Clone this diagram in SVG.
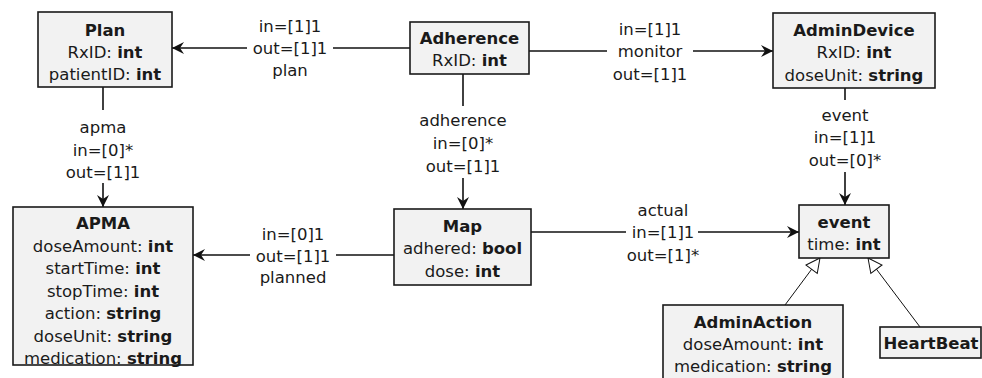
<svg xmlns="http://www.w3.org/2000/svg" width="982" height="378" viewBox="0 0 982 378">
  <style>
    text { font-family: "DejaVu Sans", "Liberation Sans", sans-serif; font-size: 16.5px; fill: #1a1a1a; text-anchor: middle; }
    .b { font-weight: bold; }
    .box { fill: #f2f2f2; stroke: #1a1a1a; stroke-width: 1.6; }
    .edge { fill: none; stroke: #111; stroke-width: 1.6; }
    .gen { fill: none; stroke: #111; stroke-width: 1; }
  </style>
  <defs>
    <marker id="arrow" markerUnits="userSpaceOnUse" markerWidth="13" markerHeight="12" refX="12" refY="6" orient="auto">
      <path d="M0,0 L12,6 L0,12 L4,6 z" fill="#111"/>
    </marker>
    <marker id="tri" markerUnits="userSpaceOnUse" markerWidth="16" markerHeight="16" refX="15" refY="8" orient="auto">
      <path d="M1,1 L15,8 L1,15 z" fill="#fff" stroke="#111" stroke-width="1"/>
    </marker>
  </defs>

  <!-- connectors -->
  <g id="connectors">
    <!-- Adherence -> Plan -->
    <path class="edge" d="M410,48 H333"/>
    <path class="edge" d="M247,48 H172" marker-end="url(#arrow)"/>
    <text x="290" y="32">in=[1]1</text>
    <text x="290" y="54">out=[1]1</text>
    <text x="290" y="76">plan</text>

    <!-- Adherence -> AdminDevice -->
    <path class="edge" d="M529,51 H607"/>
    <path class="edge" d="M693,51 H773" marker-end="url(#arrow)"/>
    <text x="650" y="35">in=[1]1</text>
    <text x="650" y="57">monitor</text>
    <text x="650" y="80">out=[1]1</text>

    <!-- Adherence -> Map -->
    <path class="edge" d="M463,74 V106"/>
    <path class="edge" d="M463,178 V209" marker-end="url(#arrow)"/>
    <text x="463" y="126">adherence</text>
    <text x="463" y="149">in=[0]*</text>
    <text x="463" y="172">out=[1]1</text>

    <!-- Plan -> APMA -->
    <path class="edge" d="M103,87 V110"/>
    <path class="edge" d="M103,183 V207" marker-end="url(#arrow)"/>
    <text x="103" y="133">apma</text>
    <text x="103" y="156">in=[0]*</text>
    <text x="103" y="178">out=[1]1</text>

    <!-- AdminDevice -> event -->
    <path class="edge" d="M845,88 V100"/>
    <path class="edge" d="M845,172 V205" marker-end="url(#arrow)"/>
    <text x="845" y="121">event</text>
    <text x="845" y="143">in=[1]1</text>
    <text x="845" y="166">out=[0]*</text>

    <!-- Map -> APMA -->
    <path class="edge" d="M394,255 H336"/>
    <path class="edge" d="M250,255 H193" marker-end="url(#arrow)"/>
    <text x="293" y="240">in=[0]1</text>
    <text x="293" y="262">out=[1]1</text>
    <text x="293" y="283">planned</text>

    <!-- Map -> event -->
    <path class="edge" d="M531,232 H626"/>
    <path class="edge" d="M698,232 H799" marker-end="url(#arrow)"/>
    <text x="663" y="216">actual</text>
    <text x="663" y="238">in=[1]1</text>
    <text x="663" y="261">out=[1]*</text>

    <!-- generalizations -->
    <path class="gen" d="M785,305 L820,258" marker-end="url(#tri)"/>
    <path class="gen" d="M920,327 L868,258" marker-end="url(#tri)"/>
  </g>

  <g id="Plan">
    <rect class="box" x="38" y="12" width="134" height="75"/>
    <text x="105" y="36" class="b">Plan</text>
    <text x="105" y="58">RxID: <tspan class="b">int</tspan></text>
    <text x="105" y="80">patientID: <tspan class="b">int</tspan></text>
  </g>

  <g id="Adherence">
    <rect class="box" x="410" y="22" width="119" height="52"/>
    <text x="469.5" y="44" class="b">Adherence</text>
    <text x="469.5" y="66">RxID: <tspan class="b">int</tspan></text>
  </g>

  <g id="AdminDevice">
    <rect class="box" x="773" y="13" width="162" height="75"/>
    <text x="854" y="36" class="b">AdminDevice</text>
    <text x="854" y="58">RxID: <tspan class="b">int</tspan></text>
    <text x="854" y="81">doseUnit: <tspan class="b">string</tspan></text>
  </g>

  <g id="APMA">
    <rect class="box" x="13" y="207" width="180" height="158"/>
    <text x="103" y="229" class="b">APMA</text>
    <text x="103" y="251.5">doseAmount: <tspan class="b">int</tspan></text>
    <text x="103" y="274">startTime: <tspan class="b">int</tspan></text>
    <text x="103" y="296.5">stopTime: <tspan class="b">int</tspan></text>
    <text x="103" y="319">action: <tspan class="b">string</tspan></text>
    <text x="103" y="341.5">doseUnit: <tspan class="b">string</tspan></text>
    <text x="103" y="364">medication: <tspan class="b">string</tspan></text>
  </g>

  <g id="Map">
    <rect class="box" x="394" y="209" width="137" height="76"/>
    <text x="462.5" y="232" class="b">Map</text>
    <text x="462.5" y="254">adhered: <tspan class="b">bool</tspan></text>
    <text x="462.5" y="277">dose: <tspan class="b">int</tspan></text>
  </g>

  <g id="event">
    <rect class="box" x="799" y="205" width="90" height="53"/>
    <text x="844" y="228" class="b">event</text>
    <text x="844" y="250">time: <tspan class="b">int</tspan></text>
  </g>

  <g id="AdminAction">
    <rect class="box" x="663" y="305" width="180" height="80"/>
    <text x="753" y="328" class="b">AdminAction</text>
    <text x="753" y="350">doseAmount: <tspan class="b">int</tspan></text>
    <text x="753" y="372">medication: <tspan class="b">string</tspan></text>
  </g>

  <g id="HeartBeat">
    <rect class="box" x="880" y="327" width="101" height="31"/>
    <text x="931" y="349" class="b">HeartBeat</text>
  </g>
</svg>
